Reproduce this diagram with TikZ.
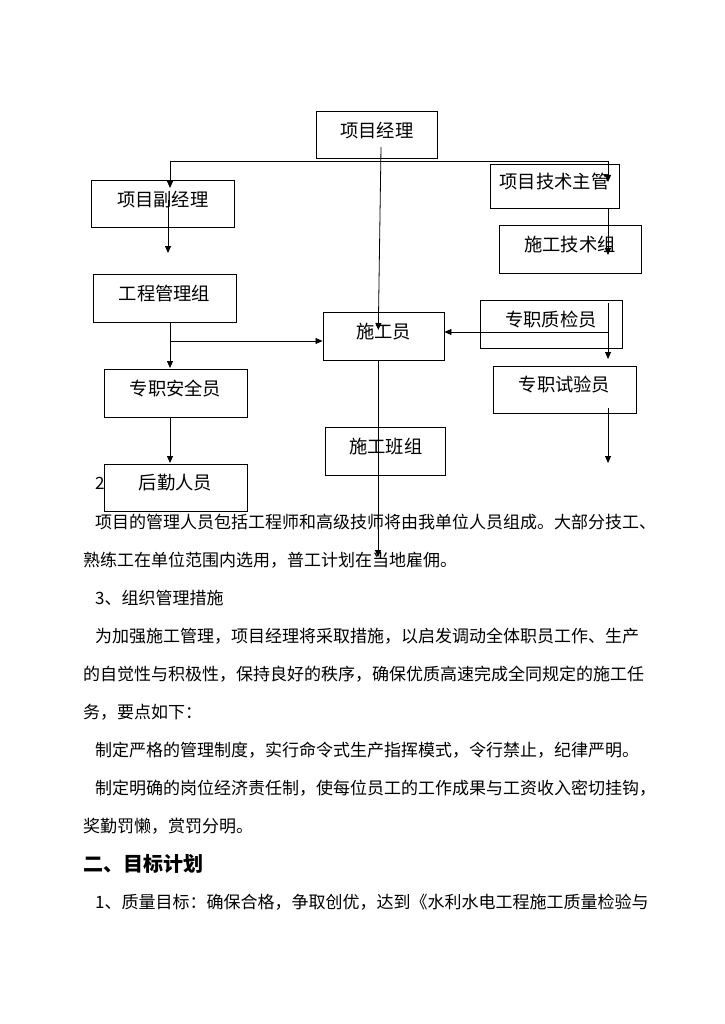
\documentclass[tikz,border=0pt]{standalone}
\usepackage{fontspec}
\setmainfont{Noto Sans CJK SC}
\usetikzlibrary{arrows.meta}

\tikzset{
  box/.style={draw, line width=0.9pt, fill=white, inner sep=0pt},
  lbl/.style={inner sep=0pt, font=\fontsize{18.3}{18.3}\selectfont},
  para/.style={anchor=west, inner sep=0pt, font=\fontsize{17}{17}\selectfont},
  conn/.style={line width=0.8pt, -{Triangle[length=7pt,width=6pt]}},
  wire/.style={line width=0.8pt},
}

\begin{document}
\begin{tikzpicture}[x=1pt,y=-1pt]
        \useasboundingbox (0,0) rectangle (724,1024);

        % heading number, mostly hidden by the box
        \node[para] (h2) at (95,483) {2};

        % boxes (pixel grid, y down)
        \node[box, minimum width=120.5pt, minimum height=47pt] (pm) at (376.75,135) {};
        \node[box, minimum width=142.5pt, minimum height=47.5pt] (dpm) at (162.75,203.75) {};
        \node[box, minimum width=143pt, minimum height=48pt] (eng) at (164.5,298) {};
        \node[box, minimum width=129pt, minimum height=44pt] (tech) at (554.5,186) {};
        \node[box, minimum width=142pt, minimum height=47.3pt] (tgrp) at (570,249.4) {};
        \node[box, minimum width=121pt, minimum height=48pt] (cons) at (383.5,336) {};
        \node[box, minimum width=143pt, minimum height=48pt] (safe) at (175.5,393) {};
        \node[box, minimum width=143pt, minimum height=47pt] (logi) at (175.5,487.5) {};
        \node[box, minimum width=120pt, minimum height=47.3pt] (team) at (385.7,451.3) {};
        \node[box, minimum width=142pt, minimum height=47.3pt] (qc) at (551,324.3) {};
        \node[box, minimum width=143pt, minimum height=47pt] (test) at (564.5,389.5) {};

        % labels sit a little above the middle
        \node[lbl] (pmt) at ([yshift=4.5pt]pm.center) {项目经理};
        \node[lbl] (dpmt) at ([yshift=4.5pt]dpm.center) {项目副经理};
        \node[lbl] (engt) at ([yshift=4.5pt]eng.center) {工程管理组};
        \node[lbl] (techt) at ([yshift=4.5pt]tech.center) {项目技术主管};
        \node[lbl] (tgrpt) at ([yshift=4.5pt]tgrp.center) {施工技术组};
        \node[lbl] (const) at ([yshift=4.5pt]cons.center) {施工员};
        \node[lbl] (safet) at ([yshift=4.5pt]safe.center) {专职安全员};
        \node[lbl] (logit) at ([yshift=4.5pt]logi.center) {后勤人员};
        \node[lbl] (teamt) at ([yshift=4.5pt]team.center) {施工班组};
        \node[lbl] (qct) at ([yshift=4.5pt]qc.center) {专职质检员};
        \node[lbl] (testt) at ([yshift=4.5pt]test.center) {专职试验员};

        % connector ends
        \coordinate (busL) at (170,161);
        \coordinate (busR) at (608,161);
        \coordinate (pmA) at (381,147);
        \coordinate (pmB) at (378.3,330);
        \coordinate (dpmA) at (168,200);
        \coordinate (dpmB) at (168,253);
        \coordinate (techB) at (608,255);
        \coordinate (engB) at (170,368);
        \coordinate (engJ) at (170,341);
        \coordinate (safeB) at (170,463);
        \coordinate (consB) at (378,557);
        \coordinate (qcA) at (608,303);
        \coordinate (qcB) at (608,359);
        \coordinate (qcJ) at (608,332);
        \coordinate (testA) at (608,408);
        \coordinate (testB) at (608,463);

        % top bus
        \draw[wire] (busL) -- (busR);
        \draw[conn] (busL) -- ([yshift=-27pt]busL);
        \draw[conn] (busR) -- ([yshift=-21pt]busR);
        \draw[conn] (pmA) -- (pmB);

        % left column
        \draw[conn] (dpmA) -- (dpmB);
        \draw[conn] (eng.south -| busL) -- (engB);
        \draw[conn] (engJ) -- (engJ -| cons.west);
        \draw[conn] (safe.south -| busL) -- (safeB);

        % middle
        \draw[conn] (cons.south -| consB) -- (consB);

        % right column
        \draw[conn] (tech.south -| techB) -- (techB);
        \draw[conn] (qcA) -- (qcB);
        \draw[conn] (qcJ) -- (qcJ -| cons.east);
        \draw[conn] (testA) -- (testB);

        % text below
        \node[para] (p1) at (95,522) {项目的管理人员包括工程师和高级技师将由我单位人员组成。大部分技工、};
        \node[para] (p2) at (83,560) {熟练工在单位范围内选用，普工计划在当地雇佣。};
        \node[para] (p3) at (95,598) {3、组织管理措施};
        \node[para] (p4) at (95,636) {为加强施工管理，项目经理将采取措施，以启发调动全体职员工作、生产};
        \node[para] (p5) at (83,674) {的自觉性与积极性，保持良好的秩序，确保优质高速完成全同规定的施工任};
        \node[para] (p6) at (83,712) {务，要点如下：};
        \node[para] (p7) at (95,750) {制定严格的管理制度，实行命令式生产指挥模式，令行禁止，纪律严明。};
        \node[para] (p8) at (95,788) {制定明确的岗位经济责任制，使每位员工的工作成果与工资收入密切挂钩，};
        \node[para] (p9) at (83,826) {奖勤罚懒，赏罚分明。};
        \node[para, font=\bfseries\fontsize{20}{20}\selectfont] (p10) at (83,864) {二、目标计划};
        \node[para] (p11) at (95,902) {1、质量目标：确保合格，争取创优，达到《水利水电工程施工质量检验与};

    \end{tikzpicture}
\end{document}
